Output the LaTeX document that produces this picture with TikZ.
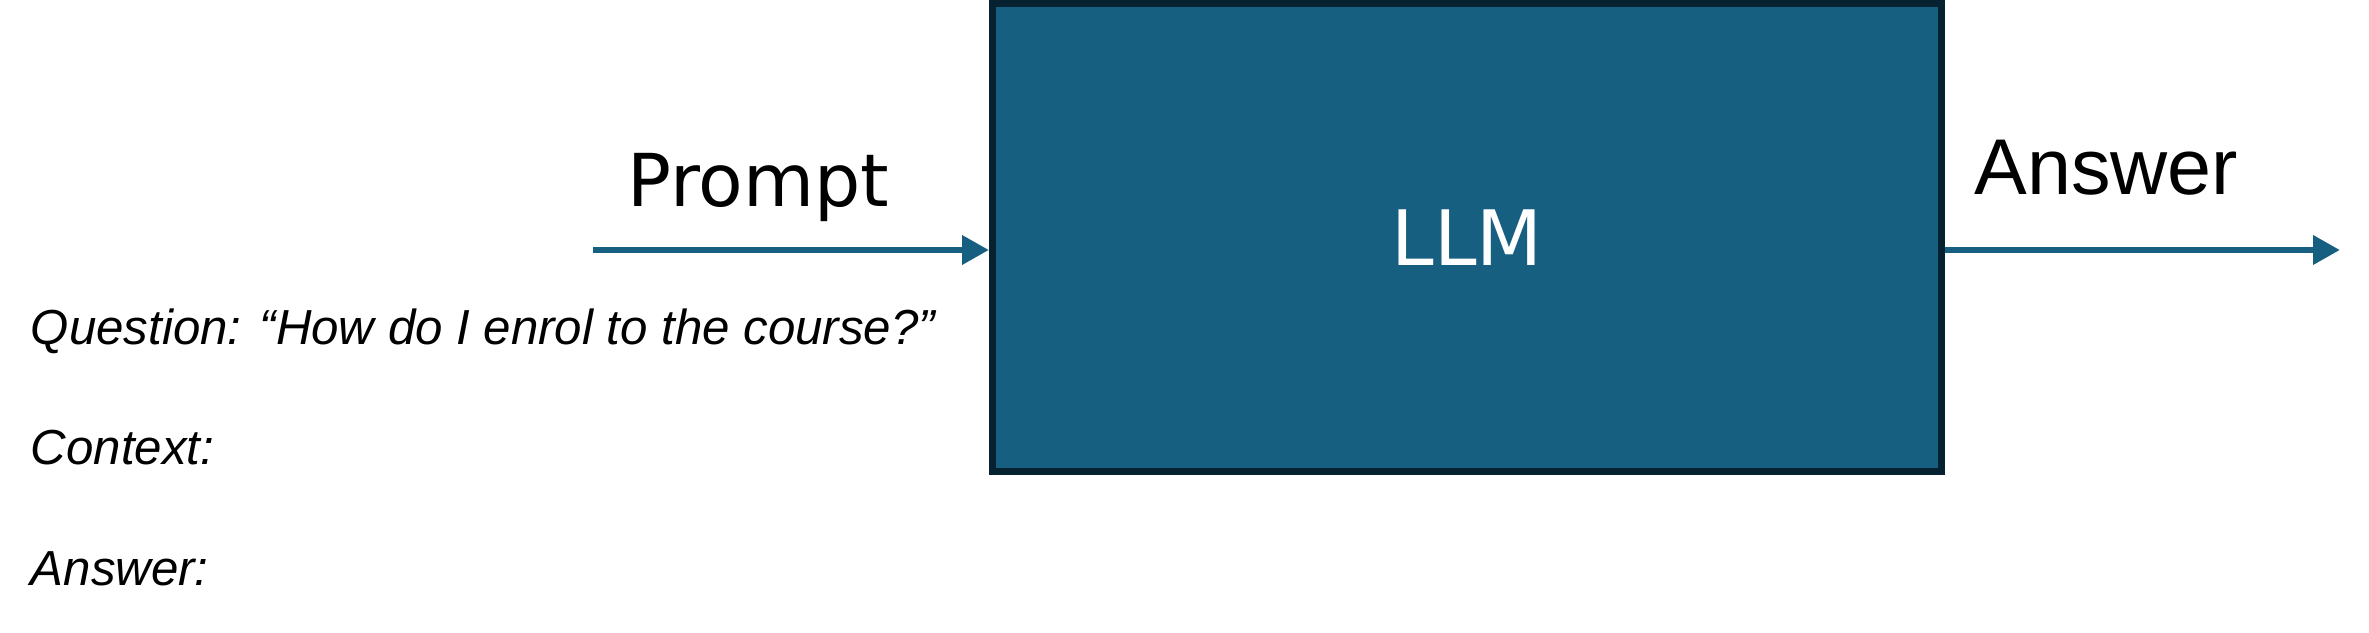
\documentclass[tikz,border=0pt]{standalone}
\usepackage{fontspec}
\setmainfont{Liberation Sans}
\newfontfamily\dejavu{DejaVu Sans}
\usepackage{xcolor}
\usepackage{tikz}
\usetikzlibrary{arrows.meta,positioning,calc}
\definecolor{llmblue}{HTML}{175F80}
\definecolor{llmedge}{HTML}{062231}

\begin{document}
\begin{tikzpicture}[>={Triangle[length=5.4mm,width=5.6mm]},
  flow/.style={->,draw=llmblue,line width=0.134cm},
  promptline/.style={anchor=base west,inner sep=0pt,font=\fontsize{28}{30}\selectfont\itshape}]
  \useasboundingbox (0,0) rectangle (47.38,12.64);
  \node[draw=llmedge,line width=0.14cm,fill=llmblue,text=white,minimum width=18.98cm,minimum height=9.36cm,
        font=\dejavu\fontsize{43.5}{46}\selectfont] (llm) at (29.34,7.89) {LLM};
  \coordinate (promptstart) at (11.86,7.64);
  \coordinate (answerend) at (46.80,7.64);
  \draw[flow] (promptstart) -- (promptstart -| llm.west);
  \draw[flow] (llm.east |- answerend) -- (answerend);
  \node[anchor=base west,inner sep=0pt,font=\dejavu\fontsize{41.5}{44}\selectfont] (promptlabel) at (12.54,8.50) {Prompt};
  \node[anchor=base west,inner sep=0pt,font=\fontsize{45}{48}\selectfont] (answerlabel) at (39.48,8.74) {Answer};
  % prompt template
  \node[promptline] (question) at (0.61,5.74) {Question: “How do I enrol to the course?”};
  \node[promptline,below=2.4cm of question.base west,anchor=base west] (context) {Context:};
  \node[promptline,below=2.4cm of context.base west,anchor=base west] (answer) {Answer:};
\end{tikzpicture}
\end{document}
